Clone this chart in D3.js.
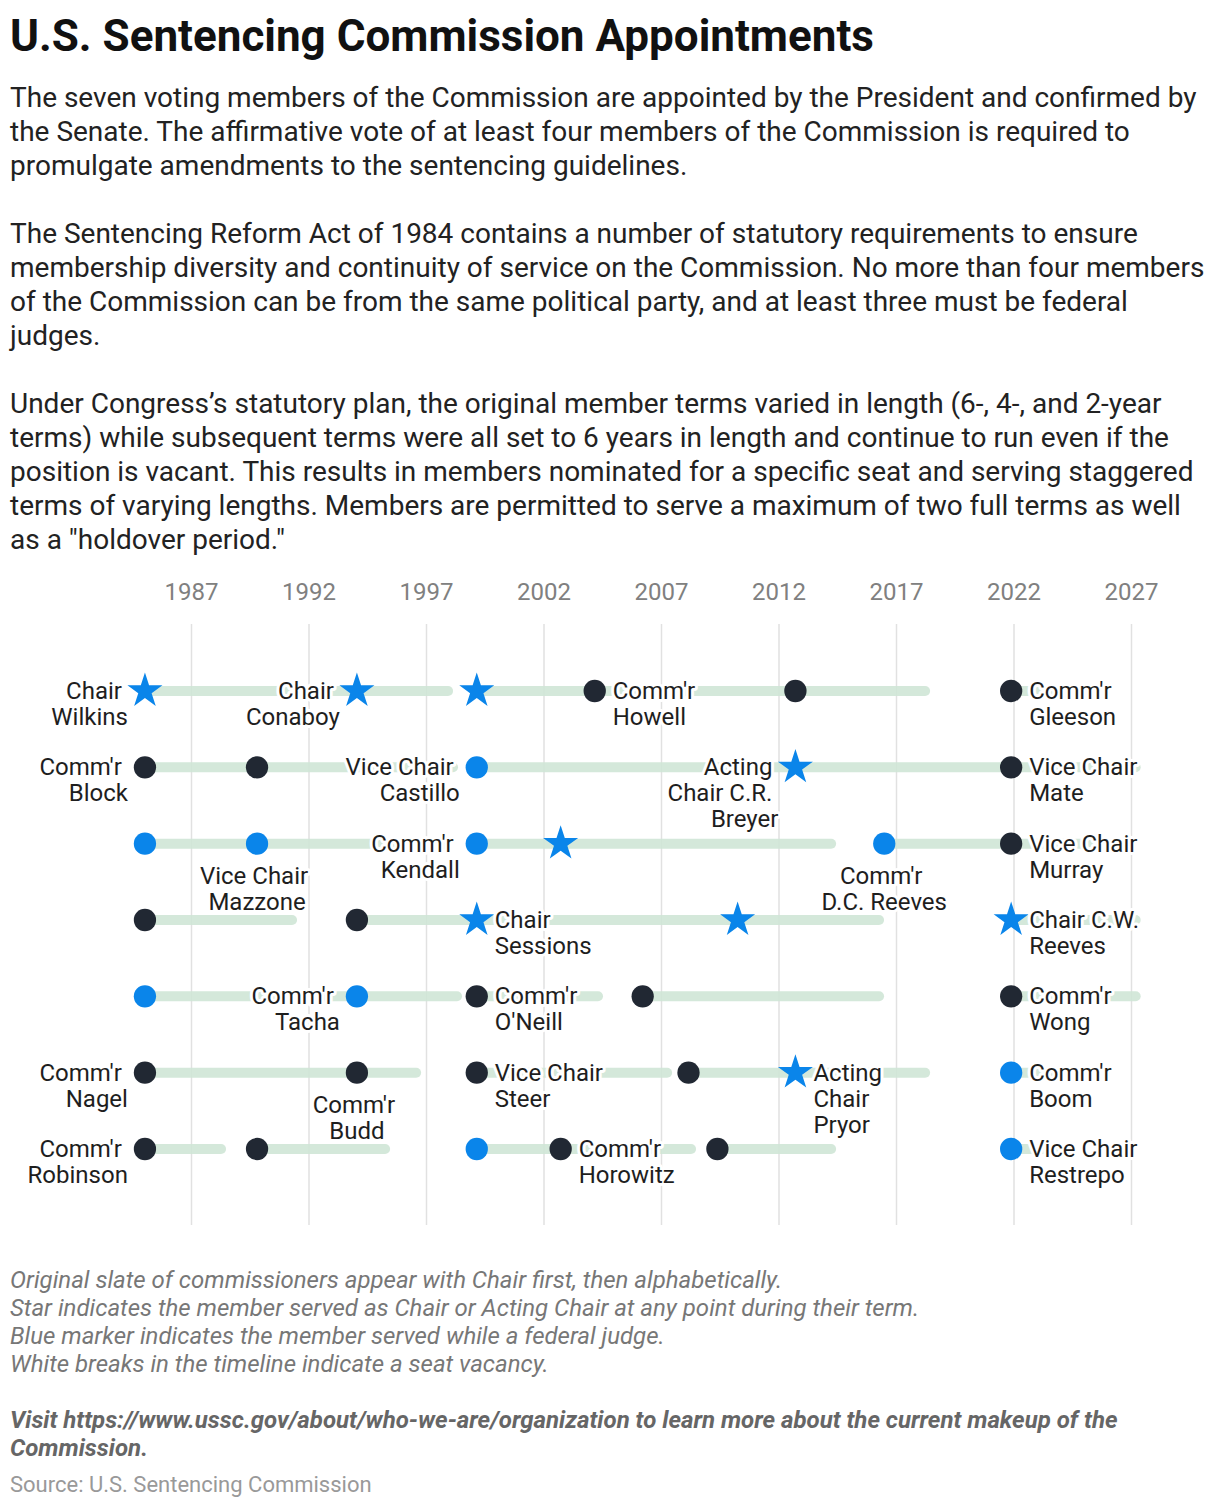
<!DOCTYPE html>
<html>
<head>
<meta charset="utf-8">
<script src="https://cdn.jsdelivr.net/npm/d3@7"></script>
<style>
  body { margin: 0; background: #fff; }
  svg { display: block; font-family: Roboto, "Noto Sans", sans-serif; }
</style>
</head>
<body>
<svg id="chart"></svg>
<script>
// ---- data ----
var tickYears = [1987, 1992, 1997, 2002, 2007, 2012, 2017, 2022, 2027];
var seats = ['Seat 1', 'Seat 2', 'Seat 3', 'Seat 4', 'Seat 5', 'Seat 6', 'Seat 7'];

// terms served, [seat, from, to] (years as decimals)
var terms = [
	[0, 1985.04, 1994.06], [0, 1994.06, 1997.94], [0, 1999.16, 2004.18], [0, 2004.18, 2012.72], [0, 2012.72, 2018.24], [0, 2021.9, 2023.8],
	[1, 1985.04, 1989.81], [1, 1989.81, 1998.15], [1, 1999.16, 2012.72], [1, 2012.72, 2021.9], [1, 2021.9, 2027.2],
	[2, 1985.04, 1989.81], [2, 1989.81, 1997.8], [2, 1999.16, 2002.73], [2, 2002.73, 2014.24], [2, 2016.5, 2021.9], [2, 2021.9, 2025.8],
	[3, 1985.04, 1991.3], [3, 1994.06, 1999.16], [3, 1999.16, 2010.26], [3, 2010.26, 2016.28], [3, 2021.9, 2027.2],
	[4, 1985.04, 1993.6], [4, 1994.06, 1998.32], [4, 1999.16, 2004.32], [4, 2006.22, 2016.28], [4, 2021.9, 2027.2],
	[5, 1985.04, 1994.06], [5, 1994.06, 1996.58], [5, 1999.16, 2007.26], [5, 2008.17, 2012.72], [5, 2012.72, 2018.24], [5, 2021.9, 2023.8],
	[6, 1985.04, 1988.28], [6, 1989.81, 1995.26], [6, 1999.16, 2002.73], [6, 2002.73, 2008.28], [6, 2009.4, 2014.24], [6, 2021.9, 2023.8]
];

// appointments, [seat, year, chair?, judge?, label]
var members = [
	[0, 1985.04, 1, 1, "Chair|Wilkins"],
	[0, 1994.06, 1, 1, "Chair|Conaboy"],
	[0, 1999.16, 1, 1, ""],
	[0, 2004.18, 0, 0, "Comm'r|Howell"],
	[0, 2012.72, 0, 0, ""],
	[0, 2021.9, 0, 0, "Comm'r|Gleeson"],
	[1, 1985.04, 0, 0, "Comm'r|Block"],
	[1, 1989.81, 0, 0, ""],
	[1, 1999.16, 0, 1, "Vice Chair|Castillo"],
	[1, 2012.72, 1, 1, "Acting|Chair C.R.|Breyer"],
	[1, 2021.9, 0, 0, "Vice Chair|Mate"],
	[2, 1985.04, 0, 1, ""],
	[2, 1989.81, 0, 1, "Vice Chair|Mazzone"],
	[2, 1999.16, 0, 1, "Comm'r|Kendall"],
	[2, 2002.73, 1, 1, ""],
	[2, 2016.5, 0, 1, "Comm'r|D.C. Reeves"],
	[2, 2021.9, 0, 0, "Vice Chair|Murray"],
	[3, 1985.04, 0, 0, ""],
	[3, 1994.06, 0, 0, ""],
	[3, 1999.16, 1, 1, "Chair|Sessions"],
	[3, 2010.26, 1, 1, ""],
	[3, 2021.9, 1, 1, "Chair C.W.|Reeves"],
	[4, 1985.04, 0, 1, ""],
	[4, 1994.06, 0, 1, "Comm'r|Tacha"],
	[4, 1999.16, 0, 0, "Comm'r|O'Neill"],
	[4, 2006.22, 0, 0, ""],
	[4, 2021.9, 0, 0, "Comm'r|Wong"],
	[5, 1985.04, 0, 0, "Comm'r|Nagel"],
	[5, 1994.06, 0, 0, "Comm'r|Budd"],
	[5, 1999.16, 0, 0, "Vice Chair|Steer"],
	[5, 2008.17, 0, 0, ""],
	[5, 2012.72, 1, 1, "Acting|Chair|Pryor"],
	[5, 2021.9, 0, 1, "Comm'r|Boom"],
	[6, 1985.04, 0, 0, "Comm'r|Robinson"],
	[6, 1989.81, 0, 0, ""],
	[6, 1999.16, 0, 1, ""],
	[6, 2002.73, 0, 0, "Comm'r|Horowitz"],
	[6, 2009.4, 0, 0, ""],
	[6, 2021.9, 0, 1, "Vice Chair|Restrepo"]
];

// which side of the marker each label sits on (default: right)
var labelLeft = ['Wilkins', 'Conaboy', 'Block', 'Castillo', 'Breyer', 'Kendall', 'Tacha', 'Nagel', 'Robinson'];
var labelBelow = ['Mazzone', 'D.C. Reeves', 'Budd'];

var title = 'U.S. Sentencing Commission Appointments';
var intro = [
	['The seven voting members of the Commission are appointed by the President and confirmed by',
	 'the Senate. The affirmative vote of at least four members of the Commission is required to',
	 'promulgate amendments to the sentencing guidelines.'],
	['The Sentencing Reform Act of 1984 contains a number of statutory requirements to ensure',
	 'membership diversity and continuity of service on the Commission. No more than four members',
	 'of the Commission can be from the same political party, and at least three must be federal',
	 'judges.'],
	['Under Congress\u2019s statutory plan, the original member terms varied in length (6-, 4-, and 2-year',
	 'terms) while subsequent terms were all set to 6 years in length and continue to run even if the',
	 'position is vacant. This results in members nominated for a specific seat and serving staggered',
	 'terms of varying lengths. Members are permitted to serve a maximum of two full terms as well',
	 'as a "holdover period."']
];
var notes = [
	'Original slate of commissioners appear with Chair first, then alphabetically.',
	'Star indicates the member served as Chair or Acting Chair at any point during their term.',
	'Blue marker indicates the member served while a federal judge.',
	'White breaks in the timeline indicate a seat vacancy.'
];
var visit = ['Visit https://www.ussc.gov/about/who-we-are/organization to learn more about the current makeup of the',
	'Commission.'];
var source = 'Source: U.S. Sentencing Commission';

// ---- drawing ----
var width = 1220, height = 1508;
var blue = '#0a85ea', dark = '#212833', green = '#cfe6d6';

var svg = d3.select('#chart').attr('width', width).attr('height', height);

svg.append('text')
	.attr('x', 10).attr('y', 51)
	.attr('font-size', 44).attr('font-weight', 700).attr('fill', '#111')
	.text(title);

var introY = 107;
intro.forEach(function(par){
	var t = svg.append('text').attr('font-size', 28).attr('fill', '#222');
	par.forEach(function(line, i){
		t.append('tspan').attr('x', 10).attr('y', introY + i * 34).text(line);
	});
	introY += (par.length + 1) * 34;
});

var x = d3.scaleLinear().domain([1987, 2027]).range([191, 1131]);
var y = d3.scalePoint().domain(seats).range([691, 1149]);

var gridTop = 624, gridBottom = 1225;

var axis = svg.append('g')
	.attr('transform', 'translate(0,' + gridTop + ')')
	.call(d3.axisTop(x).tickValues(tickYears).tickFormat(d3.format('d'))
		.tickSize(-(gridBottom - gridTop)).tickPadding(24));
axis.select('.domain').remove();
axis.selectAll('line').attr('stroke', '#e1e1e1').attr('stroke-width', 1.5);
axis.selectAll('text').attr('font-size', 24).attr('fill', '#808080')
	.attr('font-family', 'Roboto, sans-serif');

svg.append('g').selectAll('line')
	.data(terms)
	.enter()
	.append('line')
	.attr('x1', function(d){ return x(d[1]); })
	.attr('x2', function(d){ return x(d[2]); })
	.attr('y1', function(d){ return y(seats[d[0]]); })
	.attr('y2', function(d){ return y(seats[d[0]]); })
	.attr('stroke', green)
	.attr('stroke-opacity', 0.9)
	.attr('stroke-width', 10)
	.attr('stroke-linecap', 'round');

svg.append('g').selectAll('path')
	.data(members)
	.enter()
	.append('path')
	.attr('transform', function(d){ return 'translate(' + x(d[1]) + ',' + y(seats[d[0]]) + ')'; })
	.attr('d', function(d){
		return d3.symbol().type(d[2] ? d3.symbolStar : d3.symbolCircle).size(d[2] ? 380 : 390)();
	})
	.attr('fill', function(d){ return d[3] ? blue : dark; });

function sideOf(label){
	var name = label.split('|').slice(-1)[0];
	if (labelLeft.indexOf(name) >= 0) return 'left';
	if (labelBelow.indexOf(name) >= 0) return 'below';
	return 'right';
}

var labels = svg.append('g').selectAll('text')
	.data(members.filter(function(d){ return d[4]; }))
	.enter()
	.append('text')
	.attr('font-size', 24)
	.attr('fill', '#1e1e1e')
	.attr('stroke', '#fff')
	.attr('stroke-width', 6)
	.attr('stroke-linejoin', 'round')
	.attr('paint-order', 'stroke')
	.attr('text-anchor', function(d){
		var s = sideOf(d[4]);
		return s === 'left' ? 'end' : (s === 'below' ? 'middle' : 'start');
	});

// wrapped lines keep their trailing space, which nudges them left
// when the label is right-aligned or centred
var spaceW = 6;
labels.each(function(d){
	var s = sideOf(d[4]);
	var cx = x(d[1]), cy = y(seats[d[0]]);
	var lx = s === 'left' ? cx - 17 : (s === 'below' ? cx : cx + 18);
	var ly = s === 'below' ? cy + 40 : cy + 8;
	var lines = d[4].split('|');
	d3.select(this).selectAll('tspan')
		.data(lines)
		.enter()
		.append('tspan')
		.attr('x', function(l, i){
			if (i === lines.length - 1) return lx;
			return s === 'left' ? lx - spaceW : (s === 'below' ? lx - spaceW / 2 : lx);
		})
		.attr('y', function(l, i){ return ly + i * 26; })
		.text(function(l){ return l; });
});

// ---- footer ----
var noteText = svg.append('text').attr('font-size', 24).attr('font-style', 'italic').attr('fill', '#777');
notes.forEach(function(line, i){
	noteText.append('tspan').attr('x', 10).attr('y', 1288 + i * 28).text(line);
});
var visitText = svg.append('text').attr('font-size', 24).attr('font-style', 'italic')
	.attr('font-weight', 700).attr('fill', '#666');
visit.forEach(function(line, i){
	visitText.append('tspan').attr('x', 10).attr('y', 1428 + i * 28).text(line);
});
svg.append('text')
	.attr('x', 10).attr('y', 1492)
	.attr('font-size', 22).attr('fill', '#999')
	.text(source);
</script>
</body>
</html>
